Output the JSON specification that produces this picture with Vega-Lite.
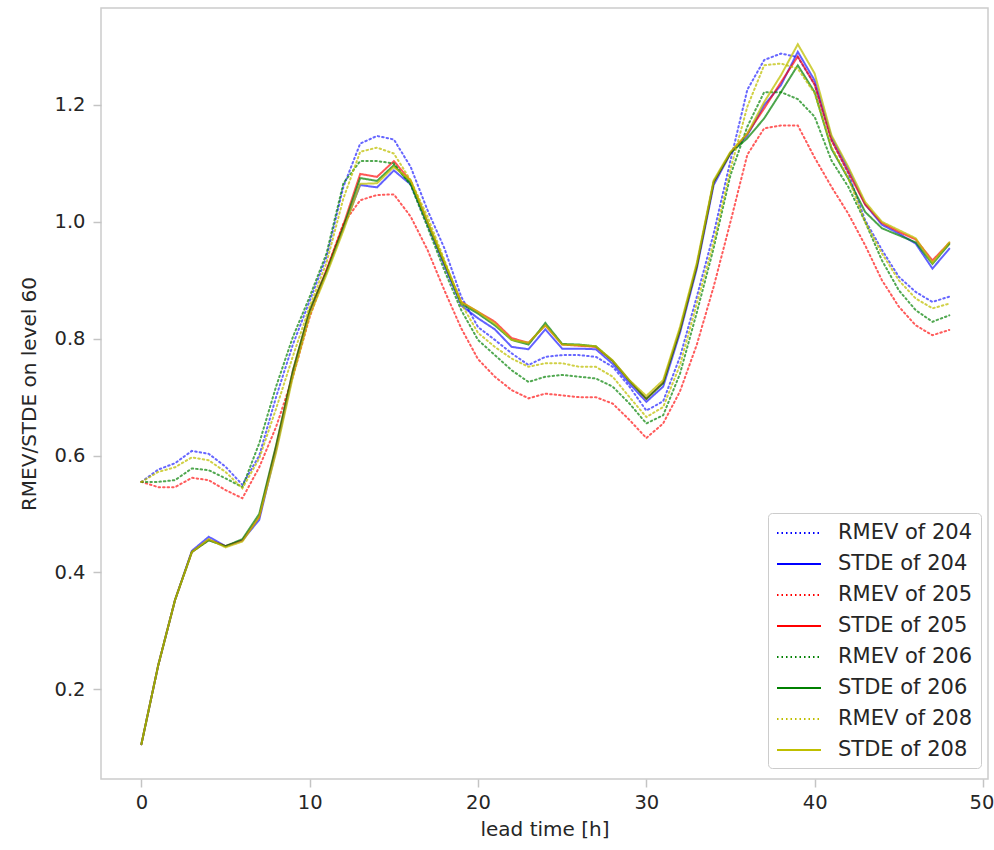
{
  "$schema": "https://vega.github.io/schema/vega-lite/v6.json",
  "width": 887,
  "height": 771,
  "autosize": {"type": "none"},
  "padding": {"left": 101, "top": 8, "right": 6, "bottom": 71},
  "background": "white",
  "config": {
    "font": "DejaVu Sans",
    "view": {"stroke": "#cccccc", "strokeWidth": 1.5},
    "axis": {
      "grid": false,
      "domain": false,
      "tickColor": "#c4c4c4",
      "tickSize": 8,
      "tickWidth": 1.5,
      "labelFont": "DejaVu Sans",
      "labelFontSize": 19.5,
      "labelColor": "#262626",
      "titleFont": "DejaVu Sans",
      "titleFontSize": 20,
      "titleFontWeight": "normal",
      "titleColor": "#262626"
    },
    "legend": {
      "labelFont": "DejaVu Sans",
      "labelFontSize": 20,
      "labelColor": "#262626"
    }
  },
  "data": {
    "values": [
      {"t":0,"RMEV of 204":0.555,"STDE of 204":0.106,"RMEV of 205":0.555,"STDE of 205":0.106,"RMEV of 206":0.555,"STDE of 206":0.106,"RMEV of 208":0.555,"STDE of 208":0.106},
      {"t":1,"RMEV of 204":0.576,"STDE of 204":0.241,"RMEV of 205":0.546,"STDE of 205":0.241,"RMEV of 206":0.555,"STDE of 206":0.241,"RMEV of 208":0.572,"STDE of 208":0.241},
      {"t":2,"RMEV of 204":0.587,"STDE of 204":0.353,"RMEV of 205":0.546,"STDE of 205":0.353,"RMEV of 206":0.558,"STDE of 206":0.353,"RMEV of 208":0.58,"STDE of 208":0.353},
      {"t":3,"RMEV of 204":0.608,"STDE of 204":0.437,"RMEV of 205":0.562,"STDE of 205":0.435,"RMEV of 206":0.578,"STDE of 206":0.435,"RMEV of 208":0.597,"STDE of 208":0.435},
      {"t":4,"RMEV of 204":0.603,"STDE of 204":0.461,"RMEV of 205":0.558,"STDE of 205":0.456,"RMEV of 206":0.575,"STDE of 206":0.455,"RMEV of 208":0.592,"STDE of 208":0.457},
      {"t":5,"RMEV of 204":0.581,"STDE of 204":0.445,"RMEV of 205":0.541,"STDE of 205":0.445,"RMEV of 206":0.561,"STDE of 206":0.445,"RMEV of 208":0.572,"STDE of 208":0.443},
      {"t":6,"RMEV of 204":0.55,"STDE of 204":0.455,"RMEV of 205":0.527,"STDE of 205":0.455,"RMEV of 206":0.546,"STDE of 206":0.457,"RMEV of 208":0.544,"STDE of 208":0.453},
      {"t":7,"RMEV of 204":0.6,"STDE of 204":0.49,"RMEV of 205":0.58,"STDE of 205":0.495,"RMEV of 206":0.621,"STDE of 206":0.5,"RMEV of 208":0.595,"STDE of 208":0.495},
      {"t":8,"RMEV of 204":0.7,"STDE of 204":0.61,"RMEV of 205":0.649,"STDE of 205":0.615,"RMEV of 206":0.718,"STDE of 206":0.617,"RMEV of 208":0.68,"STDE of 208":0.605},
      {"t":9,"RMEV of 204":0.79,"STDE of 204":0.74,"RMEV of 205":0.735,"STDE of 205":0.745,"RMEV of 206":0.803,"STDE of 206":0.745,"RMEV of 208":0.77,"STDE of 208":0.735},
      {"t":10,"RMEV of 204":0.865,"STDE of 204":0.845,"RMEV of 205":0.837,"STDE of 205":0.848,"RMEV of 206":0.872,"STDE of 206":0.849,"RMEV of 208":0.855,"STDE of 208":0.84},
      {"t":11,"RMEV of 204":0.94,"STDE of 204":0.915,"RMEV of 205":0.917,"STDE of 205":0.918,"RMEV of 206":0.946,"STDE of 206":0.915,"RMEV of 208":0.93,"STDE of 208":0.91},
      {"t":12,"RMEV of 204":1.06,"STDE of 204":0.99,"RMEV of 205":0.997,"STDE of 205":0.995,"RMEV of 206":1.066,"STDE of 206":0.991,"RMEV of 208":1.04,"STDE of 208":0.985},
      {"t":13,"RMEV of 204":1.134,"STDE of 204":1.063,"RMEV of 205":1.037,"STDE of 205":1.082,"RMEV of 206":1.104,"STDE of 206":1.075,"RMEV of 208":1.12,"STDE of 208":1.065},
      {"t":14,"RMEV of 204":1.147,"STDE of 204":1.059,"RMEV of 205":1.046,"STDE of 205":1.077,"RMEV of 206":1.104,"STDE of 206":1.07,"RMEV of 208":1.127,"STDE of 208":1.066},
      {"t":15,"RMEV of 204":1.141,"STDE of 204":1.088,"RMEV of 205":1.047,"STDE of 205":1.104,"RMEV of 206":1.1,"STDE of 206":1.097,"RMEV of 208":1.117,"STDE of 208":1.094},
      {"t":16,"RMEV of 204":1.094,"STDE of 204":1.064,"RMEV of 205":1.009,"STDE of 205":1.07,"RMEV of 206":1.063,"STDE of 206":1.066,"RMEV of 208":1.071,"STDE of 208":1.071},
      {"t":17,"RMEV of 204":1.02,"STDE of 204":0.995,"RMEV of 205":0.952,"STDE of 205":1.0,"RMEV of 206":0.991,"STDE of 206":0.998,"RMEV of 208":1.009,"STDE of 208":1.0},
      {"t":18,"RMEV of 204":0.955,"STDE of 204":0.925,"RMEV of 205":0.883,"STDE of 205":0.93,"RMEV of 206":0.917,"STDE of 206":0.929,"RMEV of 208":0.935,"STDE of 208":0.932},
      {"t":19,"RMEV of 204":0.872,"STDE of 204":0.857,"RMEV of 205":0.818,"STDE of 205":0.863,"RMEV of 206":0.849,"STDE of 206":0.86,"RMEV of 208":0.86,"STDE of 208":0.863},
      {"t":20,"RMEV of 204":0.82,"STDE of 204":0.835,"RMEV of 205":0.765,"STDE of 205":0.846,"RMEV of 206":0.798,"STDE of 206":0.843,"RMEV of 208":0.81,"STDE of 208":0.846},
      {"t":21,"RMEV of 204":0.798,"STDE of 204":0.816,"RMEV of 205":0.735,"STDE of 205":0.829,"RMEV of 206":0.772,"STDE of 206":0.823,"RMEV of 208":0.786,"STDE of 208":0.826},
      {"t":22,"RMEV of 204":0.775,"STDE of 204":0.786,"RMEV of 205":0.712,"STDE of 205":0.801,"RMEV of 206":0.746,"STDE of 206":0.798,"RMEV of 208":0.766,"STDE of 208":0.798},
      {"t":23,"RMEV of 204":0.755,"STDE of 204":0.782,"RMEV of 205":0.698,"STDE of 205":0.793,"RMEV of 206":0.726,"STDE of 206":0.79,"RMEV of 208":0.752,"STDE of 208":0.793},
      {"t":24,"RMEV of 204":0.769,"STDE of 204":0.816,"RMEV of 205":0.706,"STDE of 205":0.823,"RMEV of 206":0.735,"STDE of 206":0.827,"RMEV of 208":0.758,"STDE of 208":0.823},
      {"t":25,"RMEV of 204":0.772,"STDE of 204":0.783,"RMEV of 205":0.703,"STDE of 205":0.79,"RMEV of 206":0.738,"STDE of 206":0.791,"RMEV of 208":0.758,"STDE of 208":0.79},
      {"t":26,"RMEV of 204":0.772,"STDE of 204":0.783,"RMEV of 205":0.7,"STDE of 205":0.788,"RMEV of 206":0.735,"STDE of 206":0.79,"RMEV of 208":0.752,"STDE of 208":0.789},
      {"t":27,"RMEV of 204":0.769,"STDE of 204":0.782,"RMEV of 205":0.7,"STDE of 205":0.786,"RMEV of 206":0.732,"STDE of 206":0.787,"RMEV of 208":0.752,"STDE of 208":0.787},
      {"t":28,"RMEV of 204":0.752,"STDE of 204":0.757,"RMEV of 205":0.689,"STDE of 205":0.762,"RMEV of 206":0.718,"STDE of 206":0.762,"RMEV of 208":0.735,"STDE of 208":0.763},
      {"t":29,"RMEV of 204":0.718,"STDE of 204":0.723,"RMEV of 205":0.661,"STDE of 205":0.728,"RMEV of 206":0.689,"STDE of 206":0.728,"RMEV of 208":0.7,"STDE of 208":0.729},
      {"t":30,"RMEV of 204":0.677,"STDE of 204":0.692,"RMEV of 205":0.63,"STDE of 205":0.697,"RMEV of 206":0.655,"STDE of 206":0.697,"RMEV of 208":0.666,"STDE of 208":0.702},
      {"t":31,"RMEV of 204":0.693,"STDE of 204":0.718,"RMEV of 205":0.655,"STDE of 205":0.725,"RMEV of 206":0.669,"STDE of 206":0.724,"RMEV of 208":0.683,"STDE of 208":0.729},
      {"t":32,"RMEV of 204":0.769,"STDE of 204":0.81,"RMEV of 205":0.71,"STDE of 205":0.815,"RMEV of 206":0.74,"STDE of 206":0.815,"RMEV of 208":0.755,"STDE of 208":0.82},
      {"t":33,"RMEV of 204":0.872,"STDE of 204":0.92,"RMEV of 205":0.79,"STDE of 205":0.925,"RMEV of 206":0.845,"STDE of 206":0.925,"RMEV of 208":0.86,"STDE of 208":0.93},
      {"t":34,"RMEV of 204":0.98,"STDE of 204":1.063,"RMEV of 205":0.889,"STDE of 205":1.068,"RMEV of 206":0.955,"STDE of 206":1.068,"RMEV of 208":0.965,"STDE of 208":1.071},
      {"t":35,"RMEV of 204":1.105,"STDE of 204":1.117,"RMEV of 205":1.0,"STDE of 205":1.118,"RMEV of 206":1.08,"STDE of 206":1.118,"RMEV of 208":1.09,"STDE of 208":1.12},
      {"t":36,"RMEV of 204":1.226,"STDE of 204":1.148,"RMEV of 205":1.115,"STDE of 205":1.151,"RMEV of 206":1.163,"STDE of 206":1.143,"RMEV of 208":1.197,"STDE of 208":1.151},
      {"t":37,"RMEV of 204":1.277,"STDE of 204":1.2,"RMEV of 205":1.16,"STDE of 205":1.194,"RMEV of 206":1.222,"STDE of 206":1.177,"RMEV of 208":1.268,"STDE of 208":1.205},
      {"t":38,"RMEV of 204":1.288,"STDE of 204":1.234,"RMEV of 205":1.165,"STDE of 205":1.239,"RMEV of 206":1.222,"STDE of 206":1.222,"RMEV of 208":1.271,"STDE of 208":1.251},
      {"t":39,"RMEV of 204":1.282,"STDE of 204":1.291,"RMEV of 205":1.165,"STDE of 205":1.283,"RMEV of 206":1.21,"STDE of 206":1.268,"RMEV of 208":1.262,"STDE of 208":1.304},
      {"t":40,"RMEV of 204":1.235,"STDE of 204":1.242,"RMEV of 205":1.11,"STDE of 205":1.235,"RMEV of 206":1.18,"STDE of 206":1.222,"RMEV of 208":1.22,"STDE of 208":1.254},
      {"t":41,"RMEV of 204":1.14,"STDE of 204":1.145,"RMEV of 205":1.06,"STDE of 205":1.14,"RMEV of 206":1.105,"STDE of 206":1.125,"RMEV of 208":1.128,"STDE of 208":1.148},
      {"t":42,"RMEV of 204":1.083,"STDE of 204":1.09,"RMEV of 205":1.014,"STDE of 205":1.085,"RMEV of 206":1.06,"STDE of 206":1.074,"RMEV of 208":1.075,"STDE of 208":1.094},
      {"t":43,"RMEV of 204":1.003,"STDE of 204":1.03,"RMEV of 205":0.96,"STDE of 205":1.03,"RMEV of 206":1.0,"STDE of 206":1.017,"RMEV of 208":1.0,"STDE of 208":1.034},
      {"t":44,"RMEV of 204":0.952,"STDE of 204":0.995,"RMEV of 205":0.9,"STDE of 205":0.998,"RMEV of 206":0.934,"STDE of 206":0.989,"RMEV of 208":0.946,"STDE of 208":1.0},
      {"t":45,"RMEV of 204":0.906,"STDE of 204":0.98,"RMEV of 205":0.855,"STDE of 205":0.983,"RMEV of 206":0.883,"STDE of 206":0.977,"RMEV of 208":0.9,"STDE of 208":0.986},
      {"t":46,"RMEV of 204":0.88,"STDE of 204":0.963,"RMEV of 205":0.823,"STDE of 205":0.97,"RMEV of 206":0.849,"STDE of 206":0.965,"RMEV of 208":0.869,"STDE of 208":0.972},
      {"t":47,"RMEV of 204":0.863,"STDE of 204":0.92,"RMEV of 205":0.806,"STDE of 205":0.934,"RMEV of 206":0.829,"STDE of 206":0.928,"RMEV of 208":0.852,"STDE of 208":0.93},
      {"t":48,"RMEV of 204":0.872,"STDE of 204":0.954,"RMEV of 205":0.815,"STDE of 205":0.964,"RMEV of 206":0.84,"STDE of 206":0.962,"RMEV of 208":0.86,"STDE of 208":0.965}
    ]
  },
  "transform": [
    {"fold": ["RMEV of 204","STDE of 204","RMEV of 205","STDE of 205","RMEV of 206","STDE of 206","RMEV of 208","STDE of 208"], "as": ["series","value"]}
  ],
  "mark": {"type": "line", "strokeWidth": 2, "strokeCap": "round", "clip": true},
  "encoding": {
    "x": {
      "field": "t", "type": "quantitative",
      "scale": {"domain": [-2.4, 50.3], "nice": false, "zero": false},
      "axis": {"values": [0,10,20,30,40,50], "title": "lead time [h]", "titlePadding": 8, "labelPadding": 6, "labelFlush": 7, "labelFlushOffset": 11}
    },
    "y": {
      "field": "value", "type": "quantitative",
      "scale": {"domain": [0.0465, 1.366], "nice": false, "zero": false},
      "axis": {"values": [0.2,0.4,0.6,0.8,1.0,1.2], "format": ".1f", "title": "RMEV/STDE on level 60", "titlePadding": 14, "labelPadding": 8}
    },
    "color": {
      "field": "series", "type": "nominal",
      "scale": {
        "domain": ["RMEV of 204","STDE of 204","RMEV of 205","STDE of 205","RMEV of 206","STDE of 206","RMEV of 208","STDE of 208"],
        "range": ["#0000ff","#0000ff","#ff0000","#ff0000","#008000","#008000","#bfbf00","#bfbf00"]
      },
      "legend": {
        "title": null,
        "orient": "none",
        "legendX": 667,
        "legendY": 505,
        "fillColor": "white",
        "strokeColor": "#cccccc",
        "cornerRadius": 4,
        "padding": 8,
        "symbolType": "M-1,0H3",
        "symbolSize": 484,
        "symbolStrokeWidth": 2,
        "labelOffset": 38,
        "rowPadding": 9,
        "labelFontSize": 21
      }
    },
    "strokeDash": {
      "field": "series", "type": "nominal",
      "scale": {
        "domain": ["RMEV of 204","STDE of 204","RMEV of 205","STDE of 205","RMEV of 206","STDE of 206","RMEV of 208","STDE of 208"],
        "range": [[1.5,3],[1,0],[1.5,3],[1,0],[1.5,3],[1,0],[1.5,3],[1,0]]
      }
    },
    "strokeOpacity": {
      "field": "series", "type": "nominal",
      "scale": {
        "domain": ["RMEV of 204","STDE of 204","RMEV of 205","STDE of 205","RMEV of 206","STDE of 206","RMEV of 208","STDE of 208"],
        "range": [0.6,0.75,0.6,0.75,0.6,0.75,0.6,0.75]
      }
    }
  }
}
